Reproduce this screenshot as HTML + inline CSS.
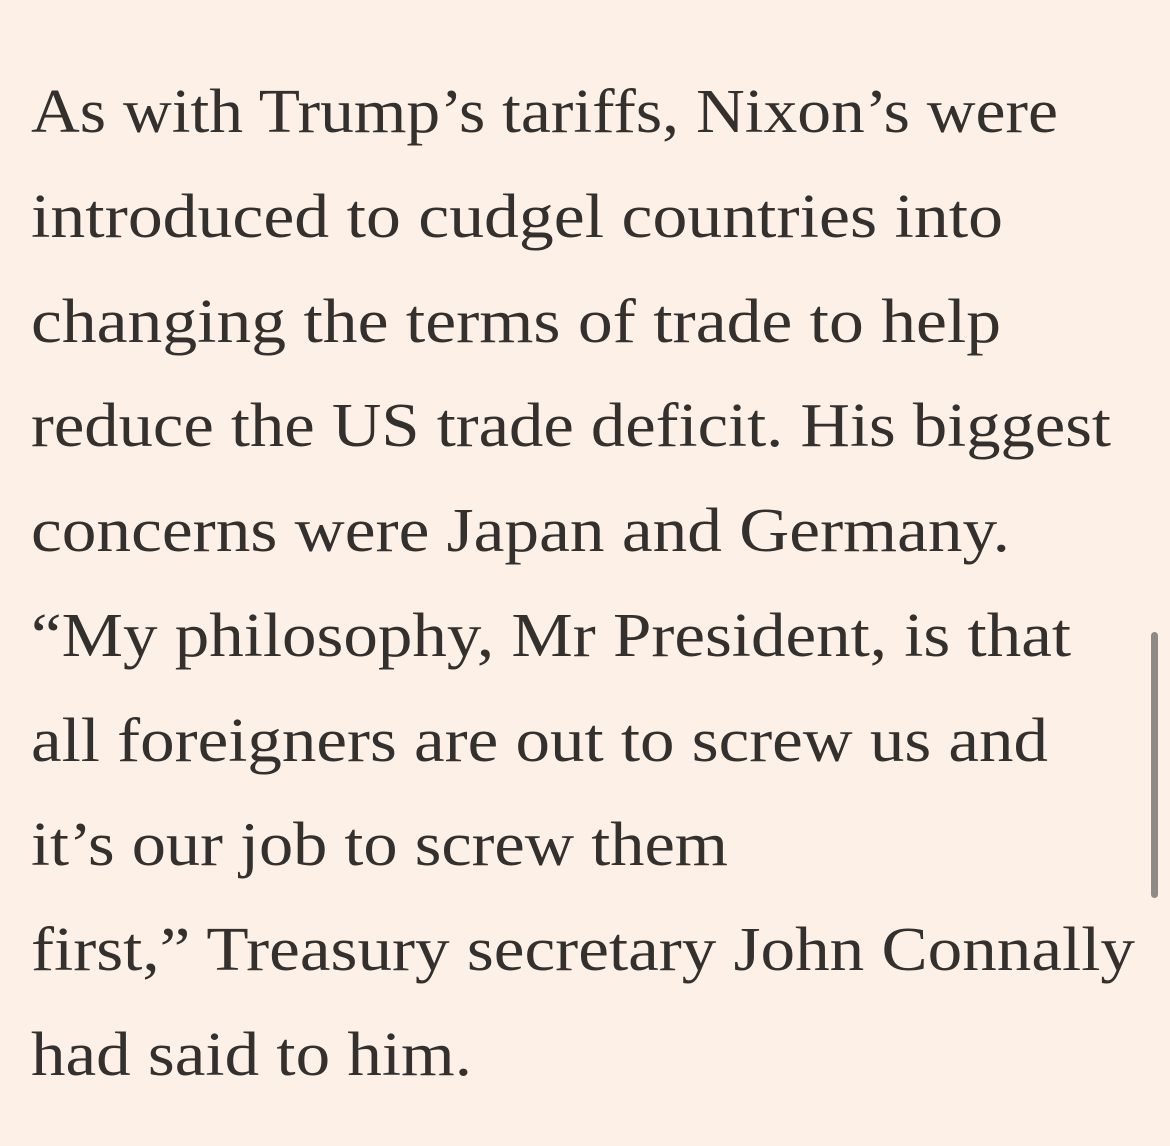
<!DOCTYPE html>
<html><head><meta charset="utf-8">
<style>
html,body{margin:0;padding:0;background:#fdf1e7;}
svg{display:block;}
text{font-family:"Liberation Serif","DejaVu Serif",serif;font-size:62px;fill:#33302e;}
</style></head>
<body>
<svg width="1170" height="1146" viewBox="0 0 1170 1146">
<rect width="1170" height="1146" fill="#fdf1e7"/>
<g>
<text x="31" y="132" textLength="1027" lengthAdjust="spacingAndGlyphs">As with Trump’s tariffs, Nixon’s were</text>
<text x="31" y="237" textLength="972" lengthAdjust="spacingAndGlyphs">introduced to cudgel countries into</text>
<text x="31" y="342" textLength="970" lengthAdjust="spacingAndGlyphs">changing the terms of trade to help</text>
<text x="31" y="446" textLength="1080" lengthAdjust="spacingAndGlyphs">reduce the US trade deficit. His biggest</text>
<text x="31" y="551" textLength="979" lengthAdjust="spacingAndGlyphs">concerns were Japan and Germany.</text>
<text x="31" y="656" textLength="1040" lengthAdjust="spacingAndGlyphs">“My philosophy, Mr President, is that</text>
<text x="31" y="761" textLength="1017" lengthAdjust="spacingAndGlyphs">all foreigners are out to screw us and</text>
<text x="31" y="865" textLength="697" lengthAdjust="spacingAndGlyphs">it’s our job to screw them</text>
<text x="31" y="970" textLength="1104" lengthAdjust="spacingAndGlyphs">first,” Treasury secretary John Connally</text>
<text x="31" y="1075" textLength="441" lengthAdjust="spacingAndGlyphs">had said to him.</text>
</g>
<rect x="1151" y="632" width="7" height="266" rx="3.5" fill="#8e8a87"/>
</svg>
</body></html>
